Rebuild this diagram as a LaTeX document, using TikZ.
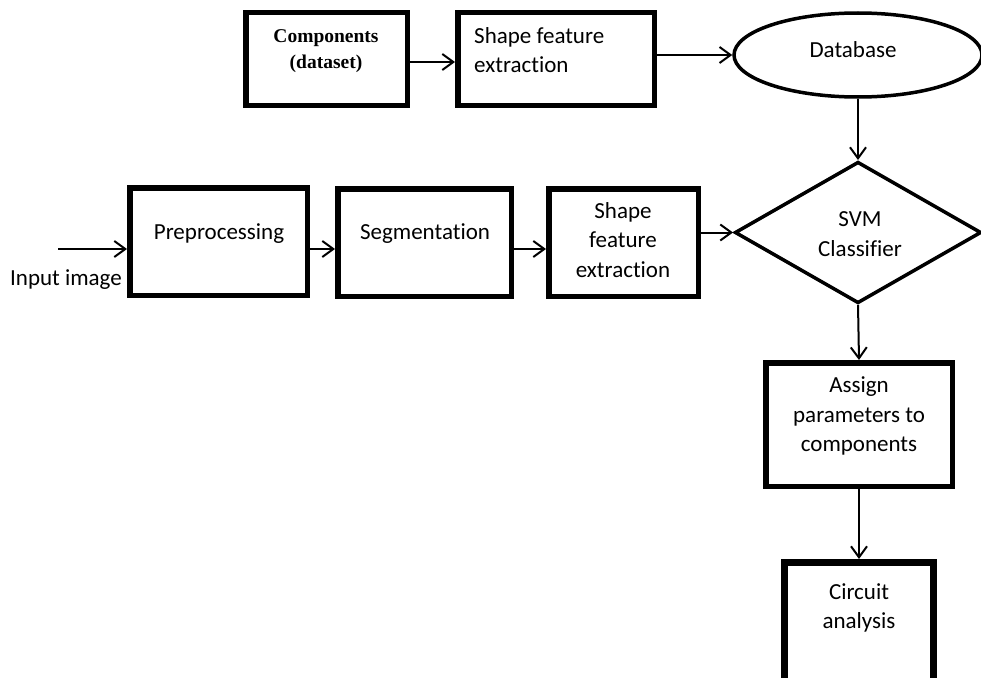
\documentclass[tikz,border=0pt]{standalone}
\usepackage{fontspec}
\setmainfont{Carlito}[Ligatures=NoCommon]
\newfontfamily\serifbox{Liberation Serif}
\usetikzlibrary{positioning,shapes.geometric,arrows.meta}

\begin{document}
\begin{tikzpicture}[
        %Environment config
        x=1pt, y=-1pt,
        font=\fontsize{23}{29.5}\selectfont,
        %Environment styles
        BoxCfg/.style={draw, line width=5.5pt, inner sep=0pt},
        TxtCfg/.style={align=center, inner sep=0pt},
        FlowArrow/.style={line width=2pt,
            -{Straight Barb[length=11pt,width=16pt,line width=2pt]}}
    ]
    \useasboundingbox (0,0) rectangle (981,677);
    \clip (0,0) rectangle (981,677);
    % shapes
    \path
        (326.5,59) node[BoxCfg, minimum width=161.5pt, minimum height=92.5pt](Comp){}
        (556,59) node[BoxCfg, minimum width=196.5pt, minimum height=92.5pt](ShapeA){}
        (858,55) node[ellipse, draw, line width=3.5pt, inner sep=0pt,
            minimum width=248pt, minimum height=84pt](Db){}
        (218.5,241.5) node[BoxCfg, minimum width=177.5pt, minimum height=107.5pt](Pre){}
        (424.5,242.5) node[BoxCfg, minimum width=173.5pt, minimum height=107.5pt](Seg){}
        (623.5,242.5) node[BoxCfg, minimum width=149.5pt, minimum height=107.5pt](ShapeB){}
        (858,232.5) node[diamond, draw, line width=3.5pt, inner sep=0pt,
            minimum width=246.5pt, minimum height=141.5pt](Svm){}
        (859,424.5) node[BoxCfg, minimum width=186.5pt, minimum height=123.5pt](Assign){}
        (859,627) node[BoxCfg, line width=7pt, minimum width=149pt, minimum height=129pt](Circ){};

    % texts
    \node[TxtCfg, font=\serifbox\bfseries\fontsize{19.5}{26}\selectfont]
        (CompTxt) at (326,51) {Components\\(dataset)};
    \node[TxtCfg, align=left, anchor=west] (ShapeATxt) at (474,50) {Shape feature\\extraction};
    \node[TxtCfg] (DbTxt) at (853,50) {Database};
    \node[TxtCfg] (PreTxt) at (219,234) {Preprocessing};
    \node[TxtCfg] (SegTxt) at (425,234) {Segmentation};
    \node[TxtCfg] (ShapeBTxt) at (623,240) {Shape\\feature\\extraction};
    \node[TxtCfg] (SvmTxt) at (860,234) {SVM\\Classifier};
    \node[TxtCfg] (AssignTxt) at (859,416) {Assign\\parameters to\\components};
    \node[TxtCfg] (CircTxt) at (859,608) {Circuit\\analysis};
    \node[TxtCfg] (InTxt) at (66,280) {Input image};

    % connectors
    \coordinate (In) at (58,249);
    \draw[FlowArrow] ([yshift=-3pt]Comp.east) -- ([yshift=-3pt]ShapeA.west);
    \draw[FlowArrow] (ShapeA.east |- Db.west) -- (Db.west);
    \draw[FlowArrow] (Db.south) -- (Svm.north);
    \draw[FlowArrow] (In) -- (In -| Pre.west);
    \draw[FlowArrow] (In -| Pre.east) -- (In -| Seg.west);
    \draw[FlowArrow] (In -| Seg.east) -- (In -| ShapeB.west);
    \draw[FlowArrow] (ShapeB.east |- Svm.west) -- (Svm.west);
    \draw[FlowArrow] (Svm.south) -- (Assign.north);
    \draw[FlowArrow] (Assign.south) -- (Circ.north);
\end{tikzpicture}
\end{document}
